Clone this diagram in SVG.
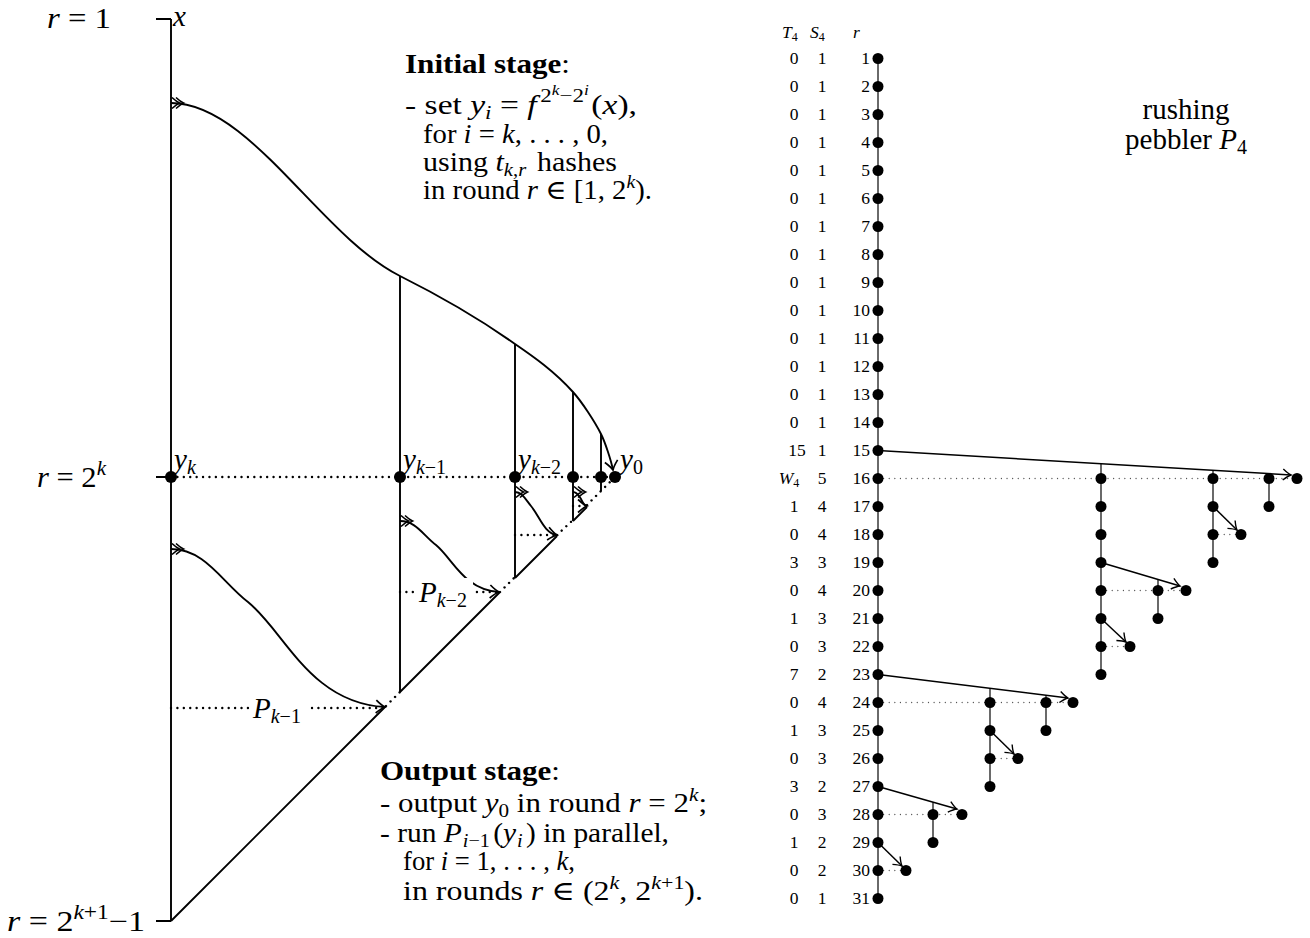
<svg xmlns="http://www.w3.org/2000/svg" width="1310" height="938" viewBox="0 0 1310 938">
<defs>
<style>
.t{font-family:"Liberation Serif","DejaVu Serif",serif;font-size:29px;fill:#000}
.u{font-size:27px}
.i{font-style:italic}
.b{font-weight:bold}
.s{font-size:20px}
.u .s{font-size:18.5px}
.xs{font-size:14px}
.ln{stroke:#000;stroke-width:1.9;fill:none}
.dt{stroke:#000;stroke-width:2.4;fill:none;stroke-dasharray:0.01 6.4;stroke-linecap:round}
.nd{fill:#000}
.tn{font-family:"Liberation Serif","DejaVu Serif",serif;font-size:17.5px;fill:#000}
.gv{stroke:#5a5a5a;stroke-width:1.8;fill:none}
.ga{stroke:#000;stroke-width:1.5;fill:none;marker-end:url(#ar)}
.gd{stroke:#555;stroke-width:1.3;fill:none;stroke-dasharray:0.01 5.6;stroke-linecap:round}
.ae{marker-end:url(#to)}
.as{marker-start:url(#two)}
</style>
<marker id="to" markerUnits="userSpaceOnUse" viewBox="-12 -8 14 16" refX="0" refY="0" markerWidth="14" markerHeight="16" orient="auto" overflow="visible">
<path d="M-9,-6.5 Q-3.5,-1.5 0,0 Q-3.5,1.5 -9,6.5" fill="none" stroke="#000" stroke-width="1.7"/>
</marker>
<marker id="two" markerUnits="userSpaceOnUse" viewBox="-2 -8 18 16" refX="0" refY="0" markerWidth="18" markerHeight="16" orient="auto" overflow="visible">
<path d="M1,-5.5 Q5.5,-1.3 8.5,0 Q5.5,1.3 1,5.5 M5,-5.5 Q9.5,-1.3 12.5,0 Q9.5,1.3 5,5.5" fill="none" stroke="#000" stroke-width="1.6"/>
</marker>
<marker id="ar" markerUnits="userSpaceOnUse" viewBox="-10 -7 12 14" refX="0" refY="0" markerWidth="12" markerHeight="14" orient="auto" overflow="visible">
<path d="M-8,-5.5 Q-3,-1.2 0,0 Q-3,1.2 -8,5.5" fill="none" stroke="#000" stroke-width="1.4"/>
</marker>
</defs>
<rect width="1310" height="938" fill="#fff"/>

<!-- LEFT DIAGRAM -->
<g id="connectors-left">
<path class="ln" d="M171,19 V921"/>
<path class="ln" d="M156,19 H171 M156,477 H171 M156,921 H171"/>
<path class="ln as ae" d="M171,103 C250,103 320,236 400,276 C438,295 477,317 515,344 C534,357 554,371 573,392 C582,402 595,422 601,434 C605,442 611,460 613,470"/>
<path class="ln" d="M400,276 V692 M515,344 V578 M573,392 V521 M601,434 V491"/>
<path class="ln" d="M171,921 L386,706 M400,692 L500,592 M515,578 L557,536 M573,521 L587,507"/>
<path class="dt" d="M386,706 L400,692 M500,592 L515,577 M557,535 L573,520 M587,505 L615,477"/>
<path class="dt" d="M171,477 H615"/>
<path class="dt" d="M171,708 H386 M400,592 H500 M515,535 H557 M573,506 H587"/>
<path class="ln as ae" d="M171,549 C205,549 222,582 248,602 C285,632 310,703 385,707"/>
<path class="ln as ae" d="M400,521 C416,521 423,535 436,545 C453,559 464,590 499,592"/>
<path class="ln as ae" d="M515,492 C522,492 526,500 531,506 C540,517 544,533 557,535"/>
<path class="ln as ae" d="M573,492 C577,492 579,496 581,499 C583,503 584,506 587,506"/>
</g>

<g id="label-r1"><text class="t" x="47" y="28" textLength="64" lengthAdjust="spacingAndGlyphs"><tspan class="i">r</tspan> = 1</text></g>
<g id="label-x"><text class="t i" x="173" y="26">x</text></g>
<g id="label-r2k"><text class="t" x="37" y="487" textLength="69" lengthAdjust="spacingAndGlyphs"><tspan class="i">r</tspan> = 2<tspan class="s i" dy="-12">k</tspan></text></g>
<g id="label-rend"><text class="t" x="7" y="931" textLength="138" lengthAdjust="spacingAndGlyphs"><tspan class="i">r</tspan> = 2<tspan class="s" dy="-12"><tspan class="i">k</tspan>+1</tspan><tspan dy="12">−1</tspan></text></g>

<g id="node-yk"><circle class="nd" cx="171" cy="477" r="6"/><text class="t i" x="174" y="469">y<tspan class="s" dy="5">k</tspan></text></g>
<g id="node-yk1"><circle class="nd" cx="400" cy="477" r="6"/><text class="t i" x="403" y="469">y<tspan class="s" dy="5">k<tspan font-style="normal">−1</tspan></tspan></text></g>
<g id="node-yk2"><circle class="nd" cx="515" cy="477" r="6"/><text class="t i" x="518" y="469">y<tspan class="s" dy="5">k<tspan font-style="normal">−2</tspan></tspan></text></g>
<g id="node-y2"><circle class="nd" cx="573" cy="477" r="6"/></g>
<g id="node-y1"><circle class="nd" cx="601" cy="477" r="6"/></g>
<g id="node-y0"><circle class="nd" cx="615" cy="477" r="6"/><text class="t i" x="620" y="469">y<tspan class="s" dy="5" font-style="normal">0</tspan></text></g>

<g id="label-pk1"><rect x="250" y="693" width="57" height="30" fill="#fff"/><text class="t i" x="253" y="718">P<tspan class="s" dy="5">k<tspan font-style="normal">−1</tspan></tspan></text></g>
<g id="label-pk2"><rect x="416" y="578" width="57" height="30" fill="#fff"/><text class="t i" x="419" y="602">P<tspan class="s" dy="5">k<tspan font-style="normal">−2</tspan></tspan></text></g>

<g id="initial-stage">
<text class="t u b" x="405" y="73" textLength="165" lengthAdjust="spacingAndGlyphs">Initial stage<tspan font-weight="normal">:</tspan></text>
<text class="t u" x="405" y="114" textLength="232" lengthAdjust="spacingAndGlyphs">- set <tspan class="i">y</tspan><tspan class="s i" dy="5">i</tspan><tspan dy="-5"> = </tspan><tspan class="i">f</tspan><tspan class="s" dx="3" dy="-12">2</tspan><tspan class="xs i" dy="-7">k</tspan><tspan class="s" dy="7">−2</tspan><tspan class="xs i" dy="-7">i</tspan><tspan dy="19" dx="2">(</tspan><tspan class="i">x</tspan>),</text>
<text class="t u" x="423" y="143" textLength="185" lengthAdjust="spacingAndGlyphs">for <tspan class="i">i</tspan> = <tspan class="i">k</tspan>, . . . , 0,</text>
<text class="t u" x="423" y="171" textLength="194" lengthAdjust="spacingAndGlyphs">using <tspan class="i">t</tspan><tspan class="s" dy="5"><tspan class="i">k</tspan>,<tspan class="i">r</tspan></tspan><tspan dy="-5" dx="3"> hashes</tspan></text>
<text class="t u" x="423" y="199" textLength="229" lengthAdjust="spacingAndGlyphs">in round <tspan class="i">r</tspan> ∈ [1, 2<tspan class="s i" dy="-11">k</tspan><tspan dy="11">).</tspan></text>
</g>

<g id="output-stage">
<text class="t u b" x="380" y="780" textLength="180" lengthAdjust="spacingAndGlyphs">Output stage<tspan font-weight="normal">:</tspan></text>
<text class="t u" x="380" y="812" textLength="327" lengthAdjust="spacingAndGlyphs">- output <tspan class="i">y</tspan><tspan class="s" dy="5">0</tspan><tspan dy="-5"> in round </tspan><tspan class="i">r</tspan> = 2<tspan class="s i" dy="-11">k</tspan><tspan dy="11">;</tspan></text>
<text class="t u" x="380" y="842" textLength="289" lengthAdjust="spacingAndGlyphs">- run <tspan class="i">P</tspan><tspan class="s" dy="5" dx="1"><tspan class="i">i</tspan>−1</tspan><tspan dy="-5" dx="3">(</tspan><tspan class="i">y</tspan><tspan class="s i" dy="5" dx="1">i</tspan><tspan dy="-5" dx="3">) in parallel,</tspan></text>
<text class="t u" x="403" y="870" textLength="172" lengthAdjust="spacingAndGlyphs">for <tspan class="i">i</tspan> = 1, . . . , <tspan class="i">k</tspan>,</text>
<text class="t u" x="403" y="900" textLength="300" lengthAdjust="spacingAndGlyphs">in rounds <tspan class="i">r</tspan> ∈ (2<tspan class="s i" dy="-11">k</tspan><tspan dy="11">, 2</tspan><tspan class="s" dy="-11"><tspan class="i">k</tspan>+1</tspan><tspan dy="11">).</tspan></text>
</g>

<!-- RIGHT DIAGRAM -->
<g id="title-right">
<text class="t" x="1186" y="119" text-anchor="middle">rushing</text>
<text class="t" x="1186" y="149" text-anchor="middle">pebbler <tspan class="i">P</tspan><tspan class="s" dy="5">4</tspan></text>
</g>

<g id="table-header" class="tn">
<text x="782" y="38"><tspan class="i">T</tspan><tspan font-size="12" dy="3">4</tspan></text>
<text x="810" y="38"><tspan class="i">S</tspan><tspan font-size="12" dy="3">4</tspan></text>
<text x="853" y="38" class="i">r</text>
</g>

<g id="col-T4" class="tn" text-anchor="middle">
<text><tspan x="794" y="64">0</tspan><tspan x="794" y="92">0</tspan><tspan x="794" y="120">0</tspan><tspan x="794" y="148">0</tspan><tspan x="794" y="176">0</tspan><tspan x="794" y="204">0</tspan><tspan x="794" y="232">0</tspan><tspan x="794" y="260">0</tspan><tspan x="794" y="288">0</tspan><tspan x="794" y="316">0</tspan><tspan x="794" y="344">0</tspan><tspan x="794" y="372">0</tspan><tspan x="794" y="400">0</tspan><tspan x="794" y="428">0</tspan><tspan x="797" y="456">15</tspan><tspan x="794" y="512">1</tspan><tspan x="794" y="540">0</tspan><tspan x="794" y="568">3</tspan><tspan x="794" y="596">0</tspan><tspan x="794" y="624">1</tspan><tspan x="794" y="652">0</tspan><tspan x="794" y="680">7</tspan><tspan x="794" y="708">0</tspan><tspan x="794" y="736">1</tspan><tspan x="794" y="764">0</tspan><tspan x="794" y="792">3</tspan><tspan x="794" y="820">0</tspan><tspan x="794" y="848">1</tspan><tspan x="794" y="876">0</tspan><tspan x="794" y="904">0</tspan></text>
<text x="789" y="484"><tspan class="i">W</tspan><tspan font-size="12" dy="3">4</tspan></text>
</g>

<g id="col-S4" class="tn" text-anchor="middle">
<text><tspan x="822" y="64">1</tspan><tspan x="822" y="92">1</tspan><tspan x="822" y="120">1</tspan><tspan x="822" y="148">1</tspan><tspan x="822" y="176">1</tspan><tspan x="822" y="204">1</tspan><tspan x="822" y="232">1</tspan><tspan x="822" y="260">1</tspan><tspan x="822" y="288">1</tspan><tspan x="822" y="316">1</tspan><tspan x="822" y="344">1</tspan><tspan x="822" y="372">1</tspan><tspan x="822" y="400">1</tspan><tspan x="822" y="428">1</tspan><tspan x="822" y="456">1</tspan><tspan x="822" y="484">5</tspan><tspan x="822" y="512">4</tspan><tspan x="822" y="540">4</tspan><tspan x="822" y="568">3</tspan><tspan x="822" y="596">4</tspan><tspan x="822" y="624">3</tspan><tspan x="822" y="652">3</tspan><tspan x="822" y="680">2</tspan><tspan x="822" y="708">4</tspan><tspan x="822" y="736">3</tspan><tspan x="822" y="764">3</tspan><tspan x="822" y="792">2</tspan><tspan x="822" y="820">3</tspan><tspan x="822" y="848">2</tspan><tspan x="822" y="876">2</tspan><tspan x="822" y="904">1</tspan></text>
</g>

<g id="col-r" class="tn" text-anchor="end">
<text><tspan x="870" y="64">1</tspan><tspan x="870" y="92">2</tspan><tspan x="870" y="120">3</tspan><tspan x="870" y="148">4</tspan><tspan x="870" y="176">5</tspan><tspan x="870" y="204">6</tspan><tspan x="870" y="232">7</tspan><tspan x="870" y="260">8</tspan><tspan x="870" y="288">9</tspan><tspan x="870" y="316">10</tspan><tspan x="870" y="344">11</tspan><tspan x="870" y="372">12</tspan><tspan x="870" y="400">13</tspan><tspan x="870" y="428">14</tspan><tspan x="870" y="456">15</tspan><tspan x="870" y="484">16</tspan><tspan x="870" y="512">17</tspan><tspan x="870" y="540">18</tspan><tspan x="870" y="568">19</tspan><tspan x="870" y="596">20</tspan><tspan x="870" y="624">21</tspan><tspan x="870" y="652">22</tspan><tspan x="870" y="680">23</tspan><tspan x="870" y="708">24</tspan><tspan x="870" y="736">25</tspan><tspan x="870" y="764">26</tspan><tspan x="870" y="792">27</tspan><tspan x="870" y="820">28</tspan><tspan x="870" y="848">29</tspan><tspan x="870" y="876">30</tspan><tspan x="870" y="904">31</tspan></text>
</g>

<g id="connectors-right">
<path class="gv" d="M878,58.5 V898.5"/>
<path class="gv" d="M1101,463.7 V674.5 M1213,470.4 V562.5 M1269,473.7 V506.5 M1158,579.5 V618.5 M990,688.4 V786.5 M1046,695.3 V730.5 M933,802.2 V842.5"/>
<path class="gd" d="M878,478.5 H1297 M1213,534.5 H1241 M1101,590.5 H1186 M1101,646.5 H1130 M878,702.5 H1073 M990,758.5 H1018 M878,814.5 H962 M878,870.5 H906"/>
<path class="ga" d="M878,450.5 L1291,475"/>
<path class="ga" d="M1213,506.5 L1237,530"/>
<path class="ga" d="M1101,562.5 L1180,586"/>
<path class="ga" d="M1101,618.5 L1126,642"/>
<path class="ga" d="M878,674.5 L1068,698"/>
<path class="ga" d="M990,730.5 L1014,754"/>
<path class="ga" d="M878,786.5 L957,809"/>
<path class="ga" d="M878,842.5 L902,866"/>
</g>

<g id="nodes-right" class="nd">
<g id="m1"><circle cx="878" cy="58.5" r="5.5"/></g>
<g id="m2"><circle cx="878" cy="86.5" r="5.5"/></g>
<g id="m3"><circle cx="878" cy="114.5" r="5.5"/></g>
<g id="m4"><circle cx="878" cy="142.5" r="5.5"/></g>
<g id="m5"><circle cx="878" cy="170.5" r="5.5"/></g>
<g id="m6"><circle cx="878" cy="198.5" r="5.5"/></g>
<g id="m7"><circle cx="878" cy="226.5" r="5.5"/></g>
<g id="m8"><circle cx="878" cy="254.5" r="5.5"/></g>
<g id="m9"><circle cx="878" cy="282.5" r="5.5"/></g>
<g id="m10"><circle cx="878" cy="310.5" r="5.5"/></g>
<g id="m11"><circle cx="878" cy="338.5" r="5.5"/></g>
<g id="m12"><circle cx="878" cy="366.5" r="5.5"/></g>
<g id="m13"><circle cx="878" cy="394.5" r="5.5"/></g>
<g id="m14"><circle cx="878" cy="422.5" r="5.5"/></g>
<g id="m15"><circle cx="878" cy="450.5" r="5.5"/></g>
<g id="m16"><circle cx="878" cy="478.5" r="5.5"/></g>
<g id="m17"><circle cx="878" cy="506.5" r="5.5"/></g>
<g id="m18"><circle cx="878" cy="534.5" r="5.5"/></g>
<g id="m19"><circle cx="878" cy="562.5" r="5.5"/></g>
<g id="m20"><circle cx="878" cy="590.5" r="5.5"/></g>
<g id="m21"><circle cx="878" cy="618.5" r="5.5"/></g>
<g id="m22"><circle cx="878" cy="646.5" r="5.5"/></g>
<g id="m23"><circle cx="878" cy="674.5" r="5.5"/></g>
<g id="m24"><circle cx="878" cy="702.5" r="5.5"/></g>
<g id="m25"><circle cx="878" cy="730.5" r="5.5"/></g>
<g id="m26"><circle cx="878" cy="758.5" r="5.5"/></g>
<g id="m27"><circle cx="878" cy="786.5" r="5.5"/></g>
<g id="m28"><circle cx="878" cy="814.5" r="5.5"/></g>
<g id="m29"><circle cx="878" cy="842.5" r="5.5"/></g>
<g id="m30"><circle cx="878" cy="870.5" r="5.5"/></g>
<g id="m31"><circle cx="878" cy="898.5" r="5.5"/></g>
<g id="a16"><circle cx="1101" cy="478.5" r="5.5"/></g>
<g id="a17"><circle cx="1101" cy="506.5" r="5.5"/></g>
<g id="a18"><circle cx="1101" cy="534.5" r="5.5"/></g>
<g id="a19"><circle cx="1101" cy="562.5" r="5.5"/></g>
<g id="a20"><circle cx="1101" cy="590.5" r="5.5"/></g>
<g id="a21"><circle cx="1101" cy="618.5" r="5.5"/></g>
<g id="a22"><circle cx="1101" cy="646.5" r="5.5"/></g>
<g id="a23"><circle cx="1101" cy="674.5" r="5.5"/></g>
<g id="b16"><circle cx="1213" cy="478.5" r="5.5"/></g>
<g id="b17"><circle cx="1213" cy="506.5" r="5.5"/></g>
<g id="b18"><circle cx="1213" cy="534.5" r="5.5"/></g>
<g id="b19"><circle cx="1213" cy="562.5" r="5.5"/></g>
<g id="c16"><circle cx="1269" cy="478.5" r="5.5"/></g>
<g id="c17"><circle cx="1269" cy="506.5" r="5.5"/></g>
<g id="d16"><circle cx="1297" cy="478.5" r="5.5"/></g>
<g id="e18"><circle cx="1241" cy="534.5" r="5.5"/></g>
<g id="f20"><circle cx="1158" cy="590.5" r="5.5"/></g>
<g id="f21"><circle cx="1158" cy="618.5" r="5.5"/></g>
<g id="g20"><circle cx="1186" cy="590.5" r="5.5"/></g>
<g id="h22"><circle cx="1130" cy="646.5" r="5.5"/></g>
<g id="i24"><circle cx="990" cy="702.5" r="5.5"/></g>
<g id="i25"><circle cx="990" cy="730.5" r="5.5"/></g>
<g id="i26"><circle cx="990" cy="758.5" r="5.5"/></g>
<g id="i27"><circle cx="990" cy="786.5" r="5.5"/></g>
<g id="j24"><circle cx="1046" cy="702.5" r="5.5"/></g>
<g id="j25"><circle cx="1046" cy="730.5" r="5.5"/></g>
<g id="k24"><circle cx="1073" cy="702.5" r="5.5"/></g>
<g id="l26"><circle cx="1018" cy="758.5" r="5.5"/></g>
<g id="o28"><circle cx="933" cy="814.5" r="5.5"/></g>
<g id="o29"><circle cx="933" cy="842.5" r="5.5"/></g>
<g id="p28"><circle cx="962" cy="814.5" r="5.5"/></g>
<g id="q30"><circle cx="906" cy="870.5" r="5.5"/></g>
</g>
</svg>
